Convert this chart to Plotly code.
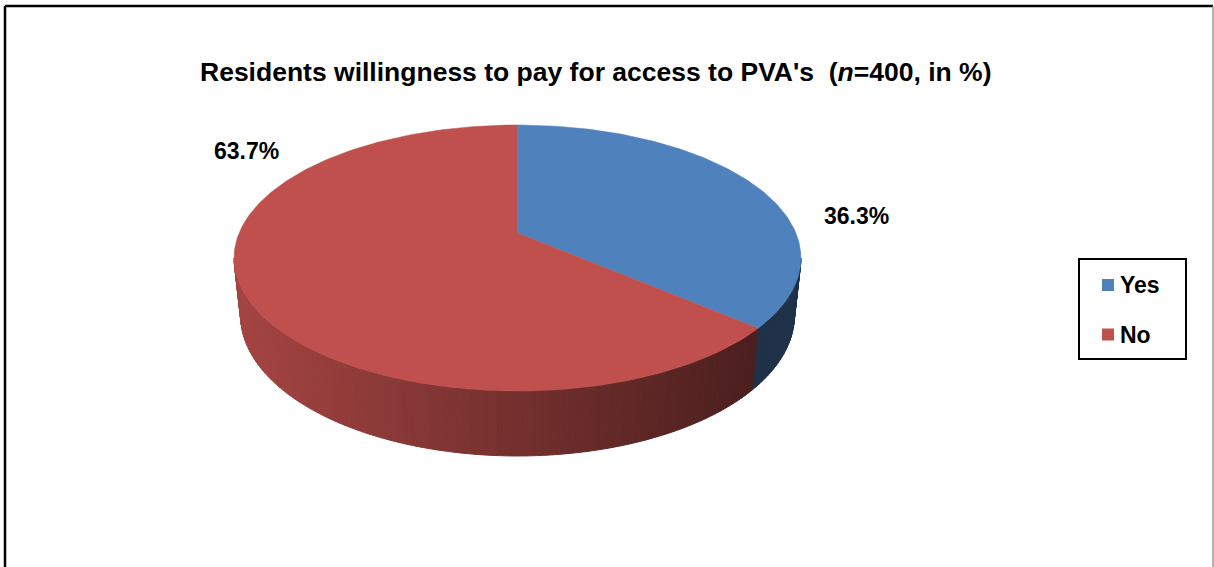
import numpy as np
import plotly.graph_objects as go

# ---- data ----
categories = ["Yes", "No"]
shares = [36.3, 63.7]
top_colors = ["#4F81BD", "#C0504D"]
title_text = "Residents willingness to pay for access to PVA's  (<i>n</i>=400, in %)"

# ---- canvas (axes map 1 unit = 1 pixel) ----
W, HGT = 1214, 567
FONT = "Liberation Sans, Arial, sans-serif"

# ---- perspective view of the disc ----
CX, CY = 517.5, 233.0      # screen position of the disc centre
FOCAL = 1314.0
DIST = 4.72                # camera distance in disc radii
ELEV = np.radians(27.45)   # camera elevation
THICK = 0.234              # disc thickness in radii


def project(theta, height):
    """Project a point on the disc rim (angle clockwise from the back) to screen."""
    theta = np.asarray(theta, dtype=float)
    X = np.sin(theta)
    Z = np.cos(theta)
    depth = DIST + Z * np.cos(ELEV) - height * np.sin(ELEV)
    yc = Z * np.sin(ELEV) + height * np.cos(ELEV)
    return CX + FOCAL * X / depth, CY - FOCAL * yc / depth


def hex_rgb(h):
    h = h.lstrip("#")
    return np.array([int(h[i:i + 2], 16) for i in (0, 2, 4)], dtype=float)


def wall_shade(base, x):
    # side walls darken from left to right
    t = np.clip((x - 234.0) / (760.0 - 234.0), 0.0, 1.0)
    k = 0.86 - 0.475 * t
    r, g, b = np.clip(base * k, 0, 255).astype(int)
    return f"rgb({r},{g},{b})"


fig = go.Figure()

# slice angle ranges
fractions = np.array(shares) / np.sum(shares)
ends = np.cumsum(fractions) * 2 * np.pi
starts = np.concatenate([[0.0], ends[:-1]])

# visible part of the rim (front half between the silhouette points)
theta_sil = np.arccos(-np.cos(ELEV) / DIST)
vis_lo, vis_hi = theta_sil, 2 * np.pi - theta_sil

# side walls, drawn as thin strips so they can be shaded
for a, b, col in zip(starts, ends, top_colors):
    lo, hi = max(a, vis_lo), min(b, vis_hi)
    if hi <= lo:
        continue
    base = hex_rgb(col)
    n = max(2, int(np.degrees(hi - lo) / 1.2))
    edges = np.linspace(lo, hi, n + 1)
    for t0, t1 in zip(edges[:-1], edges[1:]):
        tt = np.linspace(t0, t1, 4)
        xt, yt = project(tt, 0.0)
        xb, yb = project(tt[::-1], -THICK)
        xs = np.concatenate([xt, xb, xt[:1]])
        ys = np.concatenate([yt, yb, yt[:1]])
        c = wall_shade(base, xs.mean())
        fig.add_trace(go.Scatter(x=xs, y=ys, mode="lines", fill="toself",
                                 fillcolor=c, line=dict(color=c, width=1),
                                 hoverinfo="skip", showlegend=False))

# top faces
for a, b, col, name in zip(starts, ends, top_colors, categories):
    tt = np.linspace(a, b, max(3, int(np.degrees(b - a))))
    xa, ya = project(tt, 0.0)
    xs = np.concatenate([[CX], xa, [CX]])
    ys = np.concatenate([[CY], ya, [CY]])
    fig.add_trace(go.Scatter(x=xs, y=ys, mode="lines", fill="toself",
                             fillcolor=col, line=dict(color=col, width=0.5),
                             name=name, hoverinfo="skip", showlegend=False))

# data labels
label_pos = {"Yes": (856, 216), "No": (246, 151)}
for name, v in zip(categories, shares):
    lx, ly = label_pos[name]
    fig.add_annotation(x=lx, y=ly, text=f"<b>{v:.1f}%</b>", showarrow=False,
                       xanchor="center", yanchor="middle",
                       font=dict(family=FONT, size=23, color="black"))

# title
fig.add_annotation(x=596, y=72, text=f"<b>{title_text}</b>", showarrow=False,
                   xanchor="center", yanchor="middle",
                   font=dict(family=FONT, size=26.5, color="black"))

# legend box
shapes = [
    dict(type="rect", x0=1079, y0=259, x1=1186, y1=359,
         line=dict(color="black", width=2), fillcolor="white"),
]
legend_rows = [285, 334.5]
for name, col, ry in zip(categories, top_colors, legend_rows):
    shapes.append(dict(type="rect", x0=1102, x1=1114, y0=ry - 6, y1=ry + 6,
                       line=dict(width=0), fillcolor=col))
    fig.add_annotation(x=1118, y=ry, text=f"<b>{name}</b>", showarrow=False,
                       xanchor="left", yanchor="middle",
                       font=dict(family=FONT, size=23, color="black"))

# chart frame
shapes += [
    dict(type="line", x0=5, x1=5, y0=6, y1=600, line=dict(color="black", width=2.5)),
    dict(type="line", x0=5, x1=1213, y0=6, y1=6, line=dict(color="black", width=2.5)),
    dict(type="line", x0=1213, x1=1213, y0=6, y1=600, line=dict(color="#999999", width=1.5)),
]
for s in shapes:
    s.update(xref="x", yref="y", layer="above")
shapes[0]["layer"] = "below"
fig.update_layout(shapes=shapes)

fig.update_layout(
    width=W, height=HGT,
    margin=dict(l=0, r=0, t=0, b=0),
    paper_bgcolor="white", plot_bgcolor="white",
    showlegend=False,
    xaxis=dict(range=[0, W], visible=False, fixedrange=True),
    yaxis=dict(range=[HGT, 0], visible=False, fixedrange=True),
)

fig.write_html("out.html")
